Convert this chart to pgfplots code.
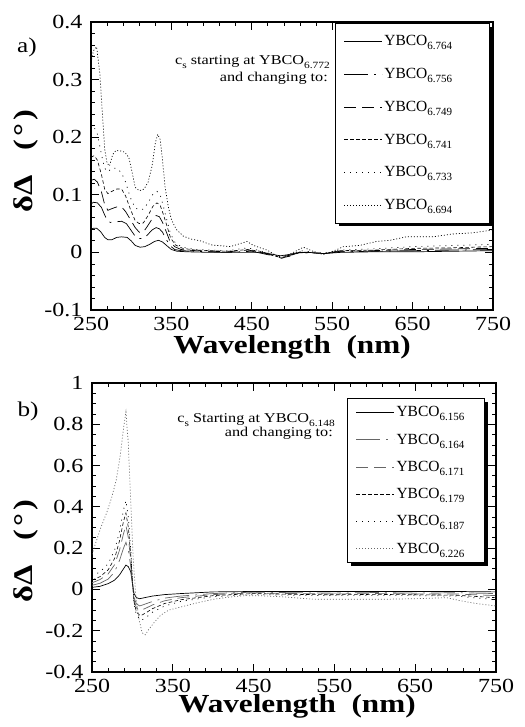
\documentclass[border=0pt]{standalone}
\usepackage{pgfplots}
\pgfplotsset{compat=1.18}
\usetikzlibrary{shadows}
\usepackage{fontspec}
\setmainfont{Liberation Serif}[FakeStretch=1.2]
\newfontfamily\legfont{Liberation Serif}
\makeatletter
\tikzset{nopre/.code={\let\tikz@preactions\pgfutil@empty}}
\makeatother
\newcommand\lsub[1]{\raisebox{-0.55ex}{\fontsize{11}{11}\selectfont #1}}
\newcommand\asub[1]{\raisebox{-0.5ex}{\fontsize{9.5}{9.5}\selectfont #1}}
\newcommand\lent[1]{\makebox[95pt][l]{YBCO\lsub{#1}}}
\newcommand\lentb[1]{\makebox[78pt][l]{YBCO\lsub{#1}}}
\pgfplotsset{
  common/.style={
    scale only axis,
    tick align=inside,
    major tick length=8pt, minor tick length=4pt,
    axis line style={line width=1.3pt},
    every tick/.style={black, line width=0.8pt},
    ticklabel style={font=\fontsize{20}{20}\selectfont},
    /pgf/number format/assume math mode=true,
    /pgf/number format/fixed,
    xmin=250, xmax=750,
    xtick={250,350,450,550,650,750},
    minor x tick num=4,
    xticklabel style={yshift=-4pt},
    yticklabel style={xshift=-5pt},
    legend cell align=left,
    legend image code/.code={\draw[nopre,##1] (0pt,0pt) -- (38pt,0pt);},
    legend style={draw=black, line width=1.2pt, fill=white,
      general shadow={fill=black, shadow xshift=3pt, shadow yshift=-3pt},
      font=\legfont\fontsize{15.5}{15.5}\selectfont,
      inner xsep=8pt, inner ysep=10pt,
      nodes={inner sep=2pt},
      /tikz/every even column/.append style={column sep=7pt}},
  },
  c1/.style={black, line width=0.7pt, solid},
  c2/.style={black, line width=0.7pt, dash pattern=on 24pt off 6pt on 2pt off 6pt},
  c3/.style={black, line width=0.7pt, dash pattern=on 12pt off 6pt},
  c4/.style={black, line width=0.6pt, dash pattern=on 3.5pt off 2.5pt},
  c5/.style={black, line width=0.7pt, dash pattern=on 1pt off 5pt},
  c6/.style={black, line width=0.7pt, dash pattern=on 1pt off 2pt},
  g2/.style={black!60, line width=0.7pt, dash pattern=on 24pt off 6pt on 2pt off 6pt},
  g3/.style={black!60, line width=0.7pt, dash pattern=on 12pt off 6pt},
  g6/.style={black!60, line width=0.7pt, dash pattern=on 1pt off 2pt},
}
\begin{document}
\begin{tikzpicture}
\path[use as bounding box] (0,0) rectangle (524pt,727pt);
% ---------- top panel ----------
\begin{axis}[common,
  at={(91pt,417pt)}, anchor=south west, width=402pt, height=288pt,
  ymin=-0.1, ymax=0.4,
  ytick={-0.1,0,0.1,0.2,0.3,0.4},
  minor y tick num=4,
  legend style={at={(0.9925,0.9965)}, anchor=north east, row sep=17pt, inner ysep=10pt},
]
\addplot[c1] coordinates {(250,0.040)(253,0.042)(257,0.042)(262,0.036)(267,0.026)(271,0.022)(276,0.022)(282,0.026)(288,0.027)(295,0.026)(300,0.020)(305,0.012)(311,0.009)(317,0.010)(323,0.014)(329,0.019)(334,0.021)(339,0.018)(344,0.012)(350,0.005)(357,0.002)(370,0.001)(400,0.000)(430,0.000)(460,0.000)(475,-0.003)(485,-0.006)(495,-0.004)(505,-0.001)(520,0.000)(540,-0.002)(560,0.000)(600,0.001)(650,0.001)(700,0.002)(750,0.003)};
\addlegendentry{\lent{6.764}}
\addplot[c2] coordinates {(250,0.084)(253,0.087)(258,0.086)(263,0.078)(267,0.065)(270,0.056)(274,0.052)(280,0.053)(288,0.054)(294,0.050)(299,0.040)(304,0.030)(309,0.024)(315,0.024)(320,0.030)(326,0.039)(331,0.043)(335,0.041)(339,0.035)(343,0.024)(348,0.012)(354,0.005)(362,0.003)(380,0.002)(420,0.000)(450,0.002)(470,-0.004)(485,-0.008)(497,-0.005)(510,0.000)(540,-0.002)(560,0.001)(600,0.002)(650,0.003)(700,0.004)(750,0.005)};
\addlegendentry{\lent{6.756}}
\addplot[c3] coordinates {(250,0.125)(254,0.127)(258,0.122)(263,0.105)(267,0.083)(271,0.073)(276,0.076)(282,0.079)(288,0.079)(293,0.071)(299,0.057)(305,0.043)(310,0.035)(315,0.035)(320,0.045)(326,0.058)(331,0.064)(335,0.062)(339,0.052)(343,0.038)(348,0.020)(354,0.010)(362,0.005)(380,0.003)(420,0.001)(445,0.004)(460,0.001)(475,-0.005)(487,-0.010)(498,-0.006)(510,0.000)(540,-0.002)(560,0.002)(600,0.003)(650,0.005)(700,0.006)(750,0.007)};
\addlegendentry{\lent{6.749}}
\addplot[c4] coordinates {(250,0.165)(254,0.168)(258,0.160)(263,0.135)(267,0.110)(271,0.102)(276,0.106)(282,0.110)(288,0.110)(293,0.098)(299,0.075)(305,0.055)(310,0.050)(315,0.051)(321,0.064)(327,0.080)(332,0.086)(336,0.082)(340,0.066)(344,0.048)(349,0.025)(355,0.013)(364,0.007)(380,0.004)(420,0.002)(445,0.005)(460,0.002)(475,-0.004)(487,-0.010)(498,-0.006)(510,0.001)(540,-0.002)(560,0.003)(600,0.004)(650,0.007)(700,0.008)(750,0.010)};
\addlegendentry{\lent{6.741}}
\addplot[c5] coordinates {(250,0.210)(254,0.217)(258,0.205)(263,0.170)(267,0.146)(271,0.140)(276,0.146)(282,0.146)(288,0.138)(293,0.122)(299,0.095)(305,0.077)(310,0.074)(315,0.075)(321,0.086)(327,0.101)(332,0.106)(336,0.100)(340,0.080)(344,0.058)(349,0.032)(355,0.016)(364,0.009)(380,0.005)(420,0.003)(445,0.008)(460,0.003)(475,-0.003)(487,-0.008)(498,-0.005)(510,0.003)(540,-0.001)(560,0.004)(600,0.006)(650,0.010)(700,0.012)(750,0.014)};
\addlegendentry{\lent{6.733}}
\addplot[c6] coordinates {(250,0.330)(253,0.350)(257,0.357)(261,0.310)(264,0.245)(267,0.180)(270,0.155)(273,0.150)(277,0.170)(281,0.177)(287,0.176)(292,0.174)(297,0.165)(301,0.140)(305,0.113)(310,0.107)(316,0.110)(321,0.122)(326,0.150)(330,0.190)(333,0.205)(336,0.196)(339,0.160)(342,0.115)(346,0.080)(350,0.057)(356,0.040)(365,0.028)(375,0.023)(386,0.020)(400,0.013)(423,0.010)(435,0.015)(444,0.019)(452,0.012)(469,0.004)(481,-0.006)(493,-0.006)(506,0.003)(514,0.009)(526,0.002)(539,-0.004)(551,0.002)(564,0.010)(584,0.012)(605,0.019)(622,0.021)(642,0.027)(675,0.027)(700,0.032)(725,0.034)(750,0.039)};
\addlegendentry{\lent{6.694}}
\end{axis}
% ---------- bottom panel ----------
\begin{axis}[common,
  at={(92pt,55pt)}, anchor=south west, width=404pt, height=289pt,
  ymin=-0.4, ymax=1,
  ytick={-0.4,-0.2,0,0.2,0.4,0.6,0.8,1},
  minor y tick num=3,
  legend style={at={(0.973,0.948)}, anchor=north east, row sep=11.5pt, inner ysep=6pt},
]
\addplot[c1] coordinates {(250,0.010)(260,0.015)(270,0.028)(278,0.045)(284,0.070)(289,0.100)(292,0.118)(295,0.110)(298,0.085)(300,0.030)(302,-0.020)(305,-0.040)(309,-0.045)(315,-0.040)(325,-0.032)(340,-0.025)(360,-0.020)(400,-0.012)(450,-0.010)(500,-0.010)(600,-0.010)(700,-0.010)(750,-0.012)};
\addlegendentry{\lentb{6.156}}
\addplot[g2] coordinates {(250,0.020)(260,0.030)(270,0.050)(278,0.085)(284,0.140)(289,0.200)(292,0.228)(295,0.190)(298,0.110)(300,0.030)(302,-0.040)(305,-0.070)(309,-0.080)(315,-0.072)(325,-0.058)(340,-0.042)(360,-0.032)(400,-0.020)(450,-0.013)(500,-0.016)(550,-0.018)(600,-0.015)(650,-0.018)(700,-0.016)(750,-0.020)};
\addlegendentry{\lentb{6.164}}
\addplot[g3] coordinates {(250,0.032)(260,0.048)(270,0.075)(278,0.120)(284,0.190)(289,0.270)(292,0.310)(295,0.250)(298,0.140)(300,0.040)(302,-0.050)(305,-0.090)(310,-0.102)(316,-0.092)(325,-0.075)(340,-0.055)(360,-0.040)(400,-0.025)(450,-0.017)(500,-0.020)(550,-0.022)(600,-0.020)(650,-0.022)(700,-0.022)(750,-0.030)};
\addlegendentry{\lentb{6.171}}
\addplot[c4] coordinates {(250,0.045)(260,0.062)(270,0.095)(278,0.150)(284,0.235)(289,0.330)(292,0.370)(295,0.300)(298,0.165)(300,0.045)(302,-0.060)(305,-0.110)(310,-0.128)(316,-0.115)(325,-0.093)(340,-0.068)(360,-0.050)(400,-0.030)(450,-0.020)(500,-0.024)(550,-0.026)(600,-0.024)(650,-0.026)(700,-0.028)(750,-0.040)};
\addlegendentry{\lentb{6.179}}
\addplot[c5] coordinates {(250,0.065)(260,0.085)(270,0.125)(278,0.190)(284,0.280)(289,0.385)(292,0.430)(295,0.350)(298,0.190)(300,0.050)(302,-0.070)(305,-0.125)(311,-0.150)(317,-0.135)(325,-0.110)(340,-0.080)(360,-0.058)(400,-0.035)(450,-0.025)(500,-0.028)(550,-0.030)(600,-0.030)(650,-0.030)(700,-0.032)(750,-0.050)};
\addlegendentry{\lentb{6.187}}
\addplot[g6] coordinates {(250,0.170)(255,0.230)(261,0.300)(268,0.370)(274,0.440)(280,0.530)(285,0.650)(289,0.780)(292,0.860)(295,0.700)(298,0.420)(301,0.150)(304,-0.020)(308,-0.140)(312,-0.210)(316,-0.220)(320,-0.195)(327,-0.160)(335,-0.125)(345,-0.100)(360,-0.085)(380,-0.065)(400,-0.048)(420,-0.037)(441,-0.030)(460,-0.031)(482,-0.035)(500,-0.040)(523,-0.047)(560,-0.048)(606,-0.048)(650,-0.045)(689,-0.040)(706,-0.055)(725,-0.068)(750,-0.080)};
\addlegendentry{\lentb{6.226}}
\end{axis}
% ---------- labels ----------
\node[font=\fontsize{21}{21}\selectfont] at (27pt,680pt) {a)};
\node[font=\fontsize{21}{21}\selectfont] at (28pt,316pt) {b)};
\node[rotate=90, font=\bfseries\fontsize{27}{27}\selectfont] at (26pt,566pt) {δΔ\hspace{0.9em}(\hspace{0.12em}°\hspace{0.12em})};
\node[rotate=90, font=\bfseries\fontsize{27}{27}\selectfont] at (26pt,176pt) {δΔ\hspace{0.9em}(\hspace{0.12em}°\hspace{0.12em})};
\node[anchor=base, inner sep=0pt, font=\bfseries\fontsize{26}{26}\selectfont] at (292pt,373pt) {Wavelength\hspace{0.6em}(nm)};
\node[anchor=base, inner sep=0pt, font=\bfseries\fontsize{26}{26}\selectfont] at (297pt,14pt) {Wavelength\hspace{0.6em}(nm)};
\node[anchor=base east, inner sep=0pt, font=\fontsize{13.5}{13.5}\selectfont] at (330pt,662pt) {c\asub{s} starting at YBCO\asub{6.772}};
\node[anchor=base east, inner sep=0pt, font=\fontsize{13.5}{13.5}\selectfont] at (328pt,645pt) {and changing to:};
\node[anchor=base east, inner sep=0pt, font=\fontsize{13.5}{13.5}\selectfont] at (335pt,304pt) {c\asub{s} Starting at YBCO\asub{6.148}};
\node[anchor=base east, inner sep=0pt, font=\fontsize{13.5}{13.5}\selectfont] at (333pt,290pt) {and changing to:};
\end{tikzpicture}
\end{document}
